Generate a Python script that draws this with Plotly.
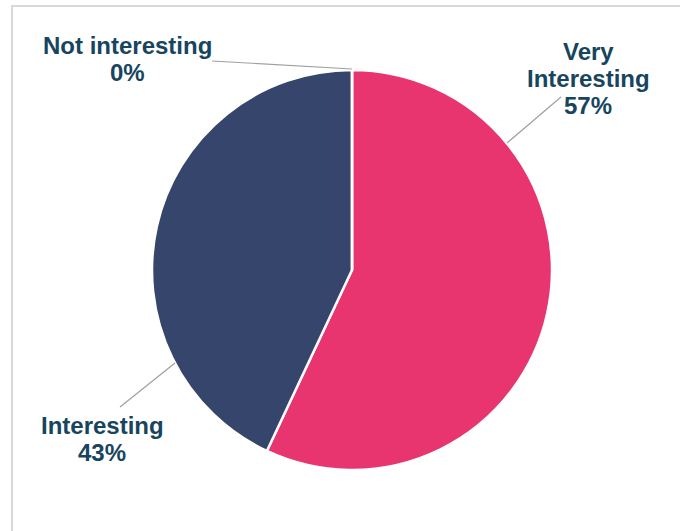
import plotly.graph_objects as go

# Survey responses
categories = ["Very Interesting", "Interesting", "Not interesting"]
shares = [57, 43, 0]
slice_colors = ["#E8346F", "#36456B", "#A5A5A5"]

W, H = 680, 531
TEXT_COLOR = "#174560"
LEADER_COLOR = "#A0A0A0"
LABEL_FONT = dict(family="Liberation Sans, Arial, sans-serif", size=24,
                  color=TEXT_COLOR, weight="bold")
LINE_STEP = 27.5  # px between label lines


def px_x(x):
    return x / W


def px_y(y):
    return 1 - y / H


fig = go.Figure(
    go.Pie(
        labels=categories,
        values=shares,
        sort=False,
        direction="clockwise",
        rotation=0,
        marker=dict(colors=slice_colors, line=dict(color="white", width=2.5)),
        textinfo="none",
        hoverinfo="label+percent",
        domain=dict(x=[px_x(152), px_x(552)], y=[px_y(470), px_y(70)]),
        showlegend=False,
    )
)

# Label placement: centre x and first-line centre y (px), text lines, leader endpoints
label_layout = {
    "Very Interesting": dict(x=588, y=51, lines=["Very", "Interesting"], leader=((561, 97), (507, 143))),
    "Interesting": dict(x=102, y=425, lines=["Interesting"], leader=((120, 407), (175, 363))),
    "Not interesting": dict(x=127, y=45, lines=["Not interesting"], leader=((212, 61), (352, 69))),
}

total = sum(shares)
annotations = []
shapes = []
for name, value in zip(categories, shares):
    spec = label_layout[name]
    pct = round(100 * value / total)
    for i, line in enumerate(spec["lines"] + [f"{pct}%"]):
        annotations.append(
            dict(
                x=px_x(spec["x"]), y=px_y(spec["y"] + i * LINE_STEP),
                xref="paper", yref="paper",
                text=line, showarrow=False, align="center",
                xanchor="center", yanchor="middle",
                font=LABEL_FONT,
            )
        )
    (x0, y0), (x1, y1) = spec["leader"]
    shapes.append(
        dict(type="line", xref="paper", yref="paper",
             x0=px_x(x0), y0=px_y(y0), x1=px_x(x1), y1=px_y(y1),
             line=dict(color=LEADER_COLOR, width=1.2))
    )

# Chart area frame
shapes.append(
    dict(type="rect", xref="paper", yref="paper",
         x0=px_x(12), y0=px_y(540), x1=px_x(690), y1=px_y(6),
         line=dict(color="#D9D9D9", width=2), fillcolor="rgba(0,0,0,0)", layer="below")
)

fig.update_layout(
    width=W, height=H,
    margin=dict(l=0, r=0, t=0, b=0),
    paper_bgcolor="white",
    plot_bgcolor="white",
    annotations=annotations,
    shapes=shapes,
)

fig.write_html("out.html")
